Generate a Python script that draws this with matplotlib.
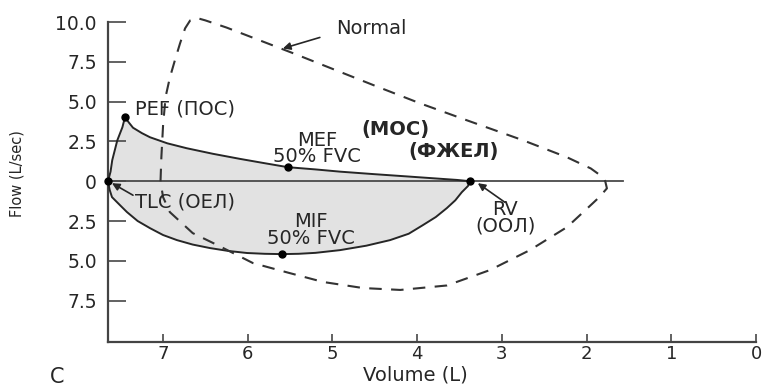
import matplotlib
matplotlib.use("Agg")
import matplotlib.pyplot as plt

# ---------------- data ----------------
# patient loop (solid)
exp_vol = [7.65, 7.62, 7.60, 7.54, 7.48, 7.45, 7.40, 7.355, 7.25, 7.154, 6.95, 6.72, 6.41, 6.09, 5.80, 5.526, 5.20, 4.91, 4.50, 4.12, 3.80, 3.53, 3.379]
exp_flow = [0.0, 0.6, 1.32, 2.57, 3.39, 4.01, 3.66, 3.36, 3.02, 2.76, 2.38, 2.07, 1.72, 1.40, 1.13, 0.88, 0.74, 0.60, 0.44, 0.30, 0.18, 0.08, 0.0]
insp_vol = [7.65, 7.63, 7.603, 7.50, 7.426, 7.30, 7.154, 7.00, 6.836, 6.65, 6.446, 6.23, 6.01, 5.80, 5.597, 5.40, 5.20, 4.912, 4.60, 4.32, 4.10, 3.933, 3.78, 3.65, 3.55, 3.473, 3.40, 3.379]
insp_flow = [0.0, -0.55, -1.0, -1.55, -1.94, -2.50, -2.95, -3.38, -3.70, -3.98, -4.20, -4.38, -4.51, -4.56, -4.58, -4.56, -4.50, -4.33, -4.05, -3.70, -3.30, -2.76, -2.25, -1.69, -1.20, -0.69, -0.30, 0.0]

# normal loop (dashed)
norm_exp_vol = [7.03, 7.02, 7.00, 6.97, 6.92, 6.86, 6.80, 6.74, 6.68, 6.60, 6.50, 6.25, 5.86, 5.47, 4.50, 3.97, 3.41, 2.75, 2.23, 1.95, 1.82, 1.78]
norm_exp_flow = [0.0, 1.5, 3.5, 5.3, 6.5, 7.6, 8.65, 9.6, 10.1, 10.25, 10.1, 9.65, 8.85, 8.05, 6.0, 4.9, 3.82, 2.57, 1.5, 0.8, 0.3, 0.0]
norm_insp_vol = [1.78, 1.76, 1.85, 1.93, 2.23, 2.67, 3.14, 3.65, 4.20, 4.64, 5.11, 5.52, 5.94, 6.36, 6.65, 6.92, 7.00, 7.03]
norm_insp_flow = [0.0, -0.45, -1.0, -1.4, -2.88, -4.33, -5.58, -6.55, -6.83, -6.71, -6.33, -5.75, -5.14, -4.01, -3.26, -1.94, -1.0, 0.0]

# key points
pt_names = ["TLC", "PEF", "MEF", "RV", "MIF"]
pt_vol = [7.65, 7.45, 5.526, 3.379, 5.597]
pt_flow = [0.0, 4.01, 0.88, 0.0, -4.58]

zero_line_vol = [7.65, 1.57]

yticks = [10.0, 7.5, 5.0, 2.5, 0.0, -2.5, -5.0, -7.5]
ytick_labels = ["10.0", "7.5", "5.0", "2.5", "0", "2.5", "5.0", "7.5"]
xticks = [7, 6, 5, 4, 3, 2, 1, 0]
xtick_labels = ["7", "6", "5", "4", "3", "2", "1", "0"]

# ---------------- figure ----------------
plt.rcParams['font.family'] = ['DejaVu Sans']
fig = plt.figure(figsize=(7.63, 3.90), dpi=100)
ax = fig.add_axes([108/763, 1-342/390, (756-108)/763, (342-22)/390])

ink = '#262626'
ax.set_xlim(7.65, 0.0)
ax.set_ylim(-10.1, 10.0)

# fill of patient loop
ax.fill(exp_vol + insp_vol[::-1], exp_flow + insp_flow[::-1], color='#e2e2e2', lw=0, zorder=1)

# zero line
ax.plot(zero_line_vol, [0, 0], color='#4a4a4a', lw=1.3, zorder=2)

# patient loop
ax.plot(exp_vol, exp_flow, color=ink, lw=1.4, zorder=3, solid_joinstyle='round')
ax.plot(insp_vol, insp_flow, color=ink, lw=1.4, zorder=3, solid_joinstyle='round')

# normal loop
ax.plot(norm_exp_vol, norm_exp_flow, color='#333333', lw=1.5, dashes=(6, 4.5), clip_on=False, zorder=3)
ax.plot(norm_insp_vol, norm_insp_flow, color='#333333', lw=1.5, dashes=(6, 4.5), clip_on=False, zorder=3)

# key points
ax.plot(pt_vol, pt_flow, 'o', color='black', ms=5, clip_on=False, zorder=5)

# axes styling
for s in ['top', 'right']:
    ax.spines[s].set_visible(False)
for s in ['left', 'bottom']:
    ax.spines[s].set_color('#444444')
    ax.spines[s].set_linewidth(1.6)
ax.set_yticks(yticks)
ax.set_yticklabels(ytick_labels)
ax.set_xticks(xticks)
ax.set_xticklabels(xtick_labels)
ax.tick_params(axis='y', direction='in', length=13, width=1.3, color='#555555', pad=8,
               labelsize=13.5, labelcolor=ink)
ax.tick_params(axis='x', direction='in', length=6, width=1.3, color='#555555', pad=2,
               labelsize=13, labelcolor=ink)

ax.text(0.474, -0.102, "Volume (L)", transform=ax.transAxes, ha='center', va='center',
        fontsize=14, color=ink)
ax.text(-0.140, 0.525, "Flow (L/sec)", transform=ax.transAxes, ha='center', va='center',
        rotation=90, fontsize=10.5, color=ink)
fig.text(57/763, 1-377/390, "C", ha='center', va='center', fontsize=15, color=ink)

# annotations
fs = 14
ls = 0.82
ax.text(4.535, 9.59, "Normal", ha='center', va='center', fontsize=fs, color=ink)
ax.annotate("", xy=(5.585, 8.34), xytext=(5.149, 9.03),
            arrowprops=dict(arrowstyle='-|>', color=ink, lw=1.2, mutation_scale=11,
                            shrinkA=0, shrinkB=0))
ax.text(7.331, 4.51, "PEF (ПОС)", ha='left', va='center', fontsize=fs, color=ink)
ax.text(4.258, 3.26, "(МОС)", ha='center', va='center', fontsize=fs, color=ink, weight='bold')
ax.text(5.18, 2.07, "MEF\n50% FVC", ha='center', va='center', multialignment='center',
        linespacing=ls, fontsize=fs, color=ink)
ax.text(3.573, 1.85, "(ФЖЕЛ)", ha='center', va='center', fontsize=fs, color=ink, weight='bold')
ax.text(7.331, -1.285, "TLC (ОЕЛ)", ha='left', va='center', fontsize=fs, color=ink)
ax.annotate("", xy=(7.603, -0.125), xytext=(7.355, -0.88),
            arrowprops=dict(arrowstyle='-|>', color=ink, lw=1.2, mutation_scale=11,
                            shrinkA=0, shrinkB=0))
ax.text(5.249, -3.07, "MIF\n50% FVC", ha='center', va='center', multialignment='center',
        linespacing=ls, fontsize=fs, color=ink)
ax.text(2.96, -2.29, "RV\n(ООЛ)", ha='center', va='center', multialignment='center',
        linespacing=ls, fontsize=fs, color=ink)
ax.annotate("", xy=(3.284, -0.125), xytext=(2.966, -1.32),
            arrowprops=dict(arrowstyle='-|>', color=ink, lw=1.2, mutation_scale=11,
                            shrinkA=0, shrinkB=0))

fig.savefig("out.png", dpi=100)
